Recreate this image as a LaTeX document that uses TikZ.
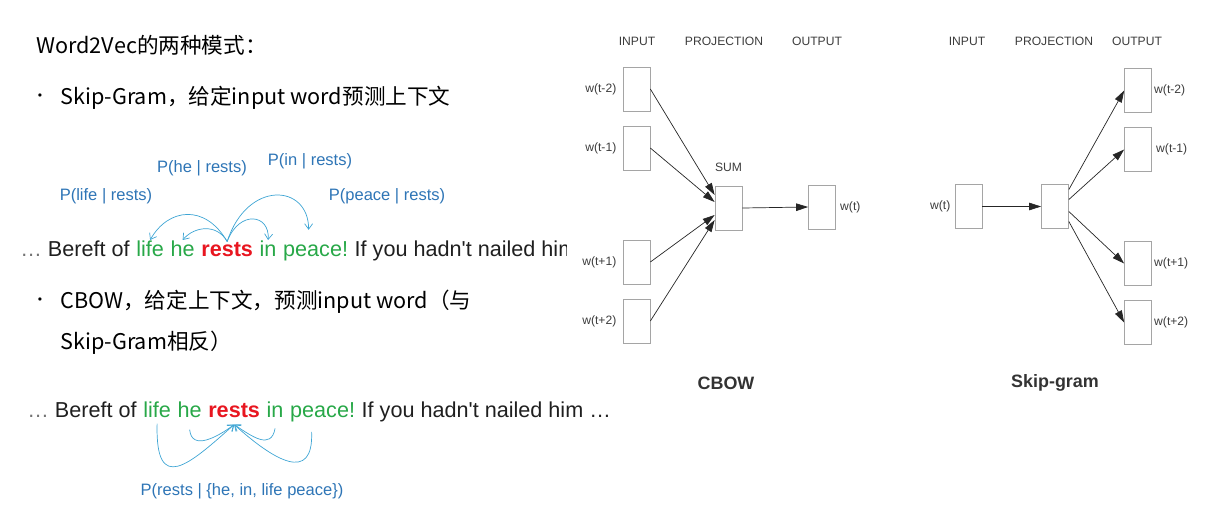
\documentclass[tikz,border=0pt]{standalone}
\usepackage{fontspec}
\setmainfont{Liberation Sans}
\newfontfamily\cjk{Noto Sans CJK SC}
\usetikzlibrary{positioning, calc, arrows.meta}
\definecolor{pblue}{RGB}{46,117,182}
\definecolor{ablue}{RGB}{62,165,212}
\definecolor{wgreen}{RGB}{40,168,72}
\definecolor{wred}{RGB}{232,22,32}
\definecolor{boxgray}{RGB}{165,165,165}
\definecolor{txtgray}{RGB}{60,60,60}

\begin{document}
\begin{tikzpicture}[x=0.02cm, y=-0.02cm,
        slide/.style={anchor=west, inner sep=0, font=\cjk\fontsize{12.3}{14}\selectfont},
        prob/.style={inner sep=0, text=pblue, font=\fontsize{9.4}{11}\selectfont},
        word/.style={inner sep=0, text=black!88, font=\fontsize{12.3}{15}\selectfont},
        ctx/.style={word, text=wgreen},
        focus/.style={inner sep=0, text=wred, font=\bfseries\fontsize{12.3}{15}\selectfont},
        unit/.style={draw=boxgray, minimum width=0.54cm, minimum height=0.88cm, inner sep=0},
        wlabel/.style={inner sep=0, text=txtgray, font=\fontsize{6.9}{8}\selectfont},
        title/.style={inner sep=0, text=black!80, font=\bfseries\fontsize{10.2}{12}\selectfont},
        net/.style={-{Triangle[length=2.4mm, width=1.5mm]}, black!85},
        ctxarrow/.style={draw=ablue, -{Straight Barb[length=1.1mm, width=1.6mm]}}
    ]
    \useasboundingbox (0,0) rectangle (1213,518);

    % left: slide text
    \node[slide] (head) at (36,45) {Word2Vec的两种模式：};
    \node[inner sep=0, font=\cjk\small] (b1) at (40,98) {•};
    \node[slide] (skip) at (60,98) {Skip-Gram，给定input word预测上下文};
    \node[inner sep=0, font=\cjk\small] (b2) at (40,302) {•};
    \node[slide] (cbow1) at (60,302) {CBOW，给定上下文，预测input word（与};
    \node[slide] (cbow2) at (60,343) {Skip-Gram相反）};

    % skip-gram sentence
    \begin{scope}
        \clip (0,180) rectangle (566,270);
        \node[word, anchor=base west] (pre) at (20,256) {{\color{black!55}…} Bereft of};
        \node[ctx, base right=3.4pt of pre] (life) {life};
        \node[ctx, base right=3.4pt of life] (he) {he};
        \node[focus, base right=3.4pt of he] (rests) {rests};
        \node[ctx, base right=3.4pt of rests] (in) {in};
        \node[ctx, base right=3.4pt of in] (peace) {peace!};
        \node[word, base right=3.4pt of peace] (post) {If you hadn\textquotesingle t nailed him};
    \end{scope}
    \node[prob] (phe) at (202,168) {P(he | rests)};
    \node[prob] (pin) at (310,161) {P(in | rests)};
    \node[prob] (plife) at (106,196) {P(life | rests)};
    \node[prob] (ppeace) at (387,196) {P(peace | rests)};
    \draw[ctxarrow] (rests.north) .. controls +(-22,-38) and +(18,-32) .. (life.north);
    \draw[ctxarrow] (rests.north) .. controls +(-10,-18) and +(12,-14) .. (he.north);
    \draw[ctxarrow] (rests.north) .. controls +(12,-32) and +(2,-26) .. (in.north);
    \draw[ctxarrow] (rests.north) .. controls +(20,-62) and +(0,-46) .. ([xshift=-0.14cm,yshift=0.22cm]peace.north);

    % cbow sentence
    \node[word, anchor=base west] (pre2) at (27,417) {{\color{black!55}…} Bereft of};
    \node[ctx, base right=3.4pt of pre2] (life2) {life};
    \node[ctx, base right=3.4pt of life2] (he2) {he};
    \node[focus, base right=3.4pt of he2] (rests2) {rests};
    \node[ctx, base right=3.4pt of rests2] (in2) {in};
    \node[ctx, base right=3.4pt of in2] (peace2) {peace!};
    \node[word, base right=3.4pt of peace2] (post2) {If you hadn\textquotesingle t nailed him …};
    \node[prob] (prests) at (242,491) {P(rests | \{he, in, life peace\})};
    \draw[ctxarrow] ([yshift=-0.12cm]life2.south) .. controls +(-2,72) and +(-45,40) .. ([yshift=-0.14cm]rests2.south);
    \draw[ctxarrow] ([yshift=-0.24cm]he2.south) .. controls +(2,22) and +(-16,12) .. ([yshift=-0.14cm]rests2.south);
    \draw[ctxarrow] ([yshift=-0.22cm]in2.south) .. controls +(-4,22) and +(18,12) .. ([yshift=-0.14cm]rests2.south);
    \draw[ctxarrow] ([xshift=-0.22cm,yshift=-0.2cm]peace2.south) .. controls +(2,52) and +(40,36) .. ([yshift=-0.14cm]rests2.south);

    % CBOW network
    \node[wlabel] (cin) at (637,41) {INPUT};
    \node[wlabel] (cproj) at (724,41) {PROJECTION};
    \node[wlabel] (cout) at (817,41) {OUTPUT};
    \node[unit] (c1) at (636.5,89) {};
    \node[unit] (c2) at (636.5,148) {};
    \node[unit] (c3) at (636.5,262) {};
    \node[unit] (c4) at (636.5,321) {};
    \node[wlabel, left=0.12cm of c1] {w(t-2)};
    \node[wlabel, left=0.12cm of c2] {w(t-1)};
    \node[wlabel, left=0.12cm of c3] {w(t+1)};
    \node[wlabel, left=0.12cm of c4] {w(t+2)};
    \node[unit] (csum) at (728.5,208) {};
    \node[wlabel, above=0.28cm of csum] (sum) {SUM};
    \node[unit] (cw) at (822,207) {};
    \node[wlabel, right=0.08cm of cw] {w(t)};
    \draw[net] (c1.east) -- ([yshift=0.26cm]csum.west);
    \draw[net] (c2.east) -- ([yshift=0.12cm]csum.west);
    \draw[net] (c3.east) -- ([yshift=-0.14cm]csum.west);
    \draw[net] (c4.east) -- ([yshift=-0.24cm]csum.west);
    \draw[net] (csum.east) -- (cw.west);
    \node[title] (tcbow) at (726,383) {CBOW};

    % Skip-gram network
    \node[wlabel] (sin) at (967,41) {INPUT};
    \node[wlabel] (sproj) at (1054,41) {PROJECTION};
    \node[wlabel] (sout) at (1137,41) {OUTPUT};
    \node[unit] (sw) at (968.5,206.5) {};
    \node[wlabel, left=0.08cm of sw] {w(t)};
    \node[unit] (sp) at (1055,206.5) {};
    \node[unit] (s1) at (1138,90.5) {};
    \node[unit] (s2) at (1138,149.5) {};
    \node[unit] (s3) at (1138,263.5) {};
    \node[unit] (s4) at (1138,322.5) {};
    \node[wlabel, right=0.04cm of s1] {w(t-2)};
    \node[wlabel, right=0.08cm of s2] {w(t-1)};
    \node[wlabel, right=0.04cm of s3] {w(t+1)};
    \node[wlabel, right=0.04cm of s4] {w(t+2)};
    \draw[net] (sw.east) -- (sp.west);
    \draw[net] ([yshift=0.34cm]sp.east) -- (s1.west);
    \draw[net] ([yshift=0.14cm]sp.east) -- (s2.west);
    \draw[net] ([yshift=-0.1cm]sp.east) -- (s3.west);
    \draw[net] ([yshift=-0.3cm]sp.east) -- (s4.west);
    \node[title] (tskip) at (1055,383) {Skip-gram};
\end{tikzpicture}
\end{document}
